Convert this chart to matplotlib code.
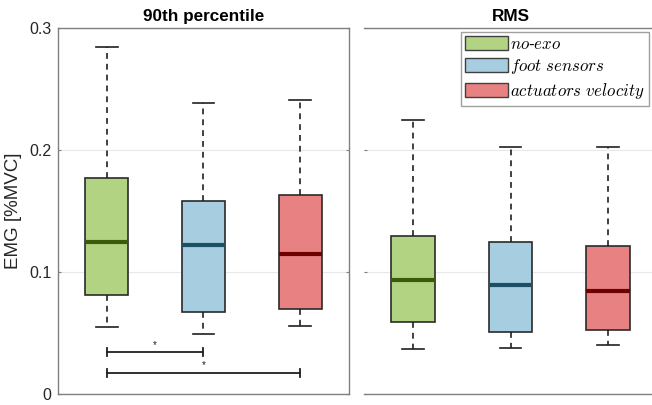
import numpy as np
import matplotlib
matplotlib.use("Agg")
import matplotlib.pyplot as plt
from matplotlib.patches import Patch

plt.rcParams['font.family'] = ['Liberation Sans', 'DejaVu Sans']
plt.rcParams['mathtext.fontset'] = 'cm'

groups = ['no-exo', 'foot sensors', 'actuators velocity']
legend_labels = [r'$no$-$exo$', r'$foot\ sensors$', r'$actuators\ velocity$']
fills = ['#b2d382', '#a6cde0', '#e88282']
medcols = ['#3a5a0c', '#1e4f64', '#6e0000']

# 90th percentile panel
p90_lo  = [0.0549, 0.0492, 0.0555]
p90_q1  = [0.0814, 0.0672, 0.0697]
p90_med = [0.1243, 0.1219, 0.1148]
p90_q3  = [0.1770, 0.1580, 0.1630]
p90_hi  = [0.2847, 0.2385, 0.2407]

# RMS panel
rms_lo  = [0.0372, 0.0380, 0.0399]
rms_q1  = [0.0593, 0.0505, 0.0527]
rms_med = [0.0937, 0.0890, 0.0847]
rms_q3  = [0.1298, 0.1243, 0.1210]
rms_hi  = [0.2248, 0.2025, 0.2025]

# significance bars (group i, group j, height)
sig_pairs = [(1, 2, 0.0344), (1, 3, 0.0175)]

fig = plt.figure(figsize=(6.52, 4.05), dpi=100)
ax1 = fig.add_axes([58.3/652, 11/405, 290.4/652, 366/405])
ax2 = fig.add_axes([364/652, 11/405, 293/652, 366/405])


def draw(ax, lo, q1, med, q3, hi):
    stats = []
    for i in range(3):
        stats.append(dict(whislo=lo[i], q1=q1[i], med=med[i], q3=q3[i],
                          whishi=hi[i], fliers=[], label=groups[i]))
    bp = ax.bxp(stats, positions=[1, 2, 3], widths=0.45, patch_artist=True,
                showfliers=False,
                boxprops=dict(edgecolor='#2a2a2a', linewidth=1.2),
                whiskerprops=dict(color='#202020', linewidth=1.2,
                                  linestyle=(0, (3.5, 3))),
                capprops=dict(color='#202020', linewidth=1.2),
                medianprops=dict(linewidth=3))
    for b, f in zip(bp['boxes'], fills):
        b.set_facecolor(f)
    for m, c in zip(bp['medians'], medcols):
        m.set_color(c)
    ax.set_xlim(0.5, 3.5)
    ax.set_ylim(0, 0.3)
    ax.set_yticks([0, 0.1, 0.2, 0.3])
    ax.set_xticks([])
    ax.yaxis.grid(True, color='#e8e8e8', linewidth=0.8)
    ax.set_axisbelow(True)
    ax.tick_params(axis='y', direction='in', length=2.5, color='#808080',
                   labelsize=11.5, labelcolor='#262626', right=True, pad=5)
    for s in ax.spines.values():
        s.set_color('#808080')
        s.set_linewidth(1.0)


draw(ax1, p90_lo, p90_q1, p90_med, p90_q3, p90_hi)
draw(ax2, rms_lo, rms_q1, rms_med, rms_q3, rms_hi)

ax1.set_yticklabels(['0', '0.1', '0.2', '0.3'])
ax1.set_ylabel('EMG [%MVC]', fontsize=13.5, color='#262626', labelpad=5)
ax1.set_title('90th percentile', fontsize=12.3, fontweight='bold', pad=5)
ax2.set_title('RMS', fontsize=12.3, fontweight='bold', pad=5)
ax2.set_yticklabels([])
ax2.spines['left'].set_visible(False)

for i, j, h in sig_pairs:
    ax1.plot([i, j], [h, h], color='#202020', linewidth=1.3)
    ax1.plot([i, i], [h - 0.0033, h + 0.0033], color='#202020', linewidth=1.3)
    ax1.plot([j, j], [h - 0.0033, h + 0.0033], color='#202020', linewidth=1.3)
    ax1.text((i + j) / 2, h + 0.002, '*', ha='center', va='bottom',
             fontsize=7, color='#202020')

handles = [Patch(facecolor=f, edgecolor='#404040', linewidth=1.0) for f in fills]
leg = ax2.legend(handles, legend_labels, loc='upper left',
                 bbox_to_anchor=(461/652, 1 - 32/405), bbox_transform=fig.transFigure,
                 fancybox=False, framealpha=1, edgecolor='#a0a0a0',
                 fontsize=12.2, handlelength=2.5, handleheight=0.9,
                 handletextpad=0.12, labelspacing=0.3, borderpad=0.25,
                 borderaxespad=0)
leg.get_frame().set_linewidth(1.0)

fig.savefig('out.png', dpi=100)
